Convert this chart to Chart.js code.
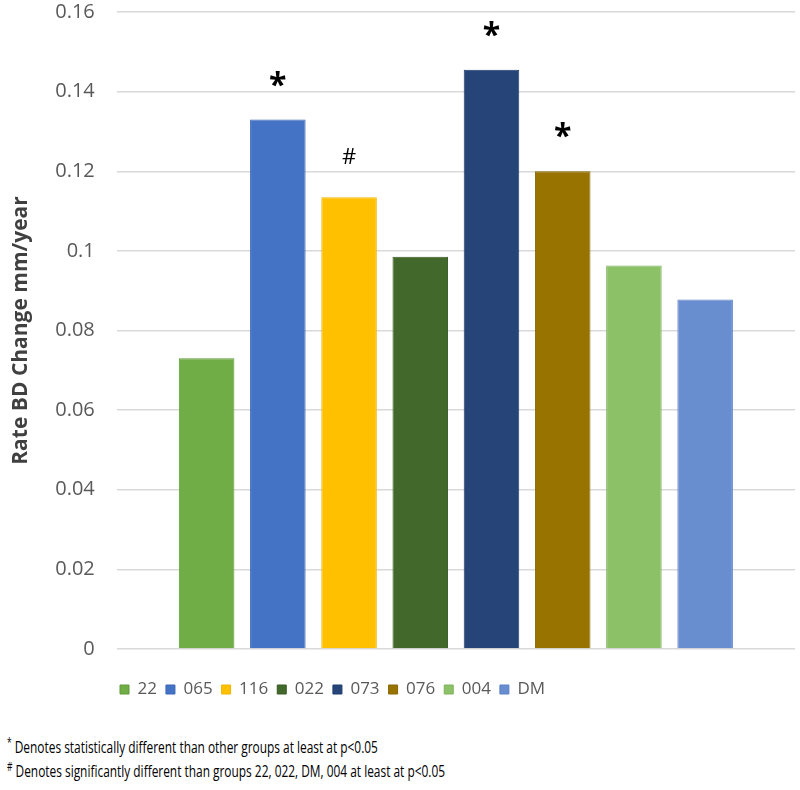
<!DOCTYPE html>
<html>
<head>
<meta charset="utf-8">
<script src="https://cdn.jsdelivr.net/npm/chart.js@4"></script>
<style>
  body { margin: 0; background: #fff; }
  .wrap { width: 800px; height: 712px; position: relative; }
  .notes { font-family: "Open Sans", sans-serif; font-size: 17px; color: #000; padding-left: 7px; margin-top: 23px; line-height: 24px; }
  .notes div { transform: scaleX(0.7); transform-origin: left center; white-space: nowrap; }
  .notes sup { font-size: 12px; vertical-align: 6px; line-height: 0; }
</style>
</head>
<body>
<div class="wrap"><canvas id="chart"></canvas></div>
<div class="notes">
  <div><sup>*</sup> Denotes statistically different than other groups at least at p&lt;0.05</div>
  <div><sup>#</sup> Denotes significantly different than groups 22, 022, DM, 004 at least at p&lt;0.05</div>
</div>
<script>
let groups = ['22', '065', '116', '022', '073', '076', '004', 'DM']
let rates = [0.073, 0.133, 0.1135, 0.0985, 0.1455, 0.12, 0.0963, 0.0878]
let marks = ['', '*', '#', '', '*', '*', '', '']
let colors = ['#70AD47', '#4472C4', '#FFC000', '#43682B', '#264478', '#997300', '#8CC168', '#698ED0']
let edges = ['#5f9a38', '#3a66b8', '#f0b400', '#385a22', '#1d3a6c', '#8a6600', '#7db359', '#5a80c8']
let yTicks = [0, 0.02, 0.04, 0.06, 0.08, 0.1, 0.12, 0.14, 0.16]

let datasets = groups.map((g, i) => {
    return {
        label: g,
        data: [rates[i]],
        backgroundColor: colors[i],
        borderColor: edges[i],
        borderWidth: 1,
        categoryPercentage: 0.84,
        barPercentage: 0.78
    }
})

// stars / hashes above bars
const markPlugin = {
    id: 'marks',
    afterLayout(chart) {
        // legend starts under the left part of the plot, like the original
        chart.legend.left = 111
    },
    afterDatasetsDraw(chart) {
        let ctx = chart.ctx
        ctx.save()
        ctx.fillStyle = '#000'
        ctx.textAlign = 'center'
        ctx.textBaseline = 'bottom'
        marks.forEach((m, i) => {
            if (!m) return
            let bar = chart.getDatasetMeta(i).data[0]
            if (m == '*') {
                ctx.font = 'bold 32px "Open Sans"'
                ctx.fillText(m, bar.x, bar.y - 17)
            } else {
                ctx.font = '22px "Open Sans"'
                ctx.fillText(m, bar.x, bar.y - 28)
            }
        })
        ctx.restore()
    }
}

new Chart(document.getElementById('chart'), {
    type: 'bar',
    data: { labels: [''], datasets: datasets },
    options: {
        responsive: true,
        maintainAspectRatio: false,
        animation: false,
        layout: { padding: { top: 0, right: 5, left: 0, bottom: 4 } },
        plugins: {
            legend: {
                position: 'bottom',
                align: 'start',
                labels: {
                    boxWidth: 9,
                    boxHeight: 9,
                    padding: 9,
                    color: '#595959',
                    font: { family: 'Open Sans', size: 17 }
                }
            },
            tooltip: { enabled: false }
        },
        scales: {
            x: {
                grid: { display: false },
                border: { display: false },
                ticks: { display: false },
                afterFit: s => { s.height = 23 }
            },
            y: {
                min: 0,
                max: 0.16,
                afterBuildTicks: axis => { axis.ticks = yTicks.map(v => ({ value: v })) },
                afterFit: s => { s.paddingTop = 12; s.paddingBottom = 12 },
                ticks: {
                    padding: 22,
                    color: '#595959',
                    font: { family: 'Open Sans', size: 20 },
                    callback: v => String(Number(v.toFixed(2)))
                },
                grid: { color: '#d9d9d9', lineWidth: 1.5, drawTicks: false },
                border: { display: false },
                title: {
                    display: true,
                    text: 'Rate BD Change mm/year',
                    color: '#404040',
                    font: { family: 'Open Sans', size: 21, weight: 'bold' },
                    padding: { top: 8, bottom: 0 }
                }
            }
        }
    },
    plugins: [markPlugin]
})
</script>
</body>
</html>
